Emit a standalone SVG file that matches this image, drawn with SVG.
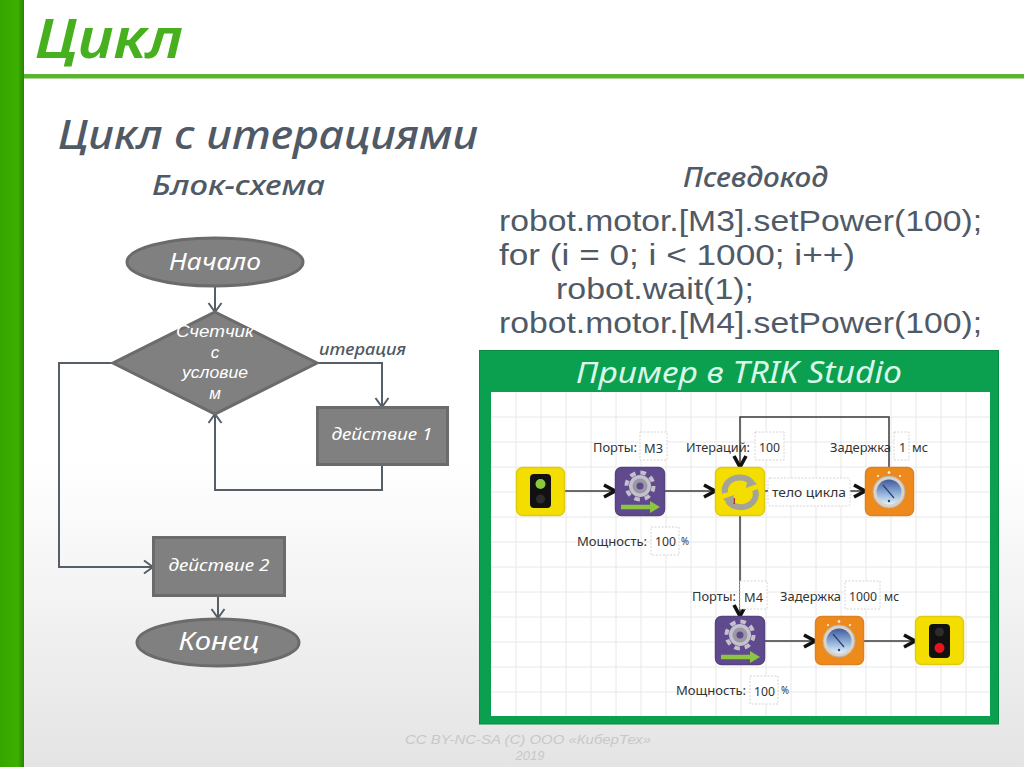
<svg xmlns="http://www.w3.org/2000/svg" width="1024" height="767" viewBox="0 0 1024 767">
<style>
text{font-family:"Noto Sans","DejaVu Sans",sans-serif}
.hw{font-style:italic}
.n{fill:#808080;stroke:#6b6b6b;stroke-width:3}
.nt{font-style:italic;fill:#fff;text-anchor:middle}
.c{fill:none;stroke:#565e68;stroke-width:2}
.w{fill:none;stroke:#3a3a3a;stroke-width:1.5}
.h{fill:#505a66;font-style:italic;font-weight:500}
.l{font-size:12.5px;fill:#333}
.b{fill:#fff;stroke:#d4d4d4;stroke-width:1;stroke-dasharray:2 1.5}
.y{fill:#f3de00;stroke:#e0cb10;stroke-width:1.5}
.o{fill:#ee8a1c;stroke:#dd8224;stroke-width:1.5}
.p{fill:#5f4a8e;stroke:#54447f;stroke-width:1.5}
.g{stroke:#e8e8e8;stroke-width:1}
.ls{font-family:"Liberation Sans",Arial,sans-serif}
</style>
<defs>
<linearGradient id="bg" x1="0" y1="0" x2="0" y2="1"><stop offset="0.6" stop-color="#fff"/><stop offset="1" stop-color="#e4e4e4"/></linearGradient>
<linearGradient id="bar" x1="0" y1="0" x2="1" y2="0"><stop offset="0" stop-color="#35a500"/><stop offset="0.75" stop-color="#3cb100"/><stop offset="1" stop-color="#2a7f08"/></linearGradient>
<linearGradient id="dial" x1="0" y1="0" x2="0" y2="1"><stop offset="0" stop-color="#3f5a9c"/><stop offset="0.55" stop-color="#8fb0d8"/><stop offset="1" stop-color="#e6f0f8"/></linearGradient>
<marker id="a" markerUnits="userSpaceOnUse" markerWidth="14" markerHeight="16" refX="12" refY="8" orient="auto"><path d="M3 1.5L12 8L3 14.5" fill="none" stroke="#565e68" stroke-width="2"/></marker>
<marker id="k" markerUnits="userSpaceOnUse" markerWidth="16" markerHeight="16" refX="13" refY="8" orient="auto"><path d="M2 2L13 8L2 14" fill="none" stroke="#111" stroke-width="3.6"/></marker>
<g id="gear"><circle r="11" fill="#c4c0cc"/><circle r="13.5" fill="none" stroke="#c4c0cc" stroke-width="4" stroke-dasharray="5.6 5"/><circle r="7.5" fill="#9a98a4"/><circle r="3.5" fill="#5f4a8e"/></g>
<g id="marrow"><path d="M-19 0H11" stroke="#8cc540" stroke-width="4.5"/><path d="M10 -6L20 0L10 6Z" fill="#8cc540"/></g>
<g id="clock"><circle r="16" fill="#d8d2c8" stroke="#b9b2a6"/><circle r="12.5" fill="url(#dial)"/><path d="M-6 -7L5 6" stroke="#2d3f70" stroke-width="1.2"/><circle cy="9" r="1.2" fill="#2d3f70"/><circle cy="-19.500" r="1.3" fill="#fff"/><circle cx="-11" cy="-16" r="1" fill="#fff"/><circle cx="11" cy="-16" r="1" fill="#fff"/></g>
</defs>

<rect width="1024" height="767" fill="url(#bg)"/>
<rect x="0" y="0" width="24" height="767" fill="url(#bar)"/>
<rect x="24" y="74" width="1000" height="4.5" fill="#5cb431"/>
<text x="35" y="58" font-size="54" font-weight="600" class="hw" fill="#46b01e" textLength="148" lengthAdjust="spacingAndGlyphs">Цикл</text>
<text x="58" y="149" font-size="40" class="h" textLength="420" lengthAdjust="spacingAndGlyphs">Цикл с итерациями</text>
<text x="152" y="195" font-size="28" class="h" textLength="173" lengthAdjust="spacingAndGlyphs">Блок-схема</text>
<text x="683" y="187" font-size="28" class="h" textLength="145" lengthAdjust="spacingAndGlyphs">Псевдокод</text>
<g font-size="29" fill="#505a66" class="ls">
<text class="ls" x="499" y="231" textLength="483" lengthAdjust="spacingAndGlyphs">robot.motor.[M3].setPower(100);</text>
<text class="ls" x="499" y="265" textLength="356" lengthAdjust="spacingAndGlyphs">for (i = 0; i &lt; 1000; i++)</text>
<text class="ls" x="556" y="299" textLength="198" lengthAdjust="spacingAndGlyphs">robot.wait(1);</text>
<text class="ls" x="499" y="333" textLength="483" lengthAdjust="spacingAndGlyphs">robot.motor.[M4].setPower(100);</text>
</g>

<g id="connectors-flow">
<path class="c" marker-end="url(#a)" d="M215 287V312"/>
<path class="c" marker-end="url(#a)" d="M317 363H382V407"/>
<path class="c" marker-end="url(#a)" d="M382 465V490H215V414"/>
<path class="c" marker-end="url(#a)" d="M113 363H59V567H153"/>
<path class="c" marker-end="url(#a)" d="M218 596V618"/>
</g>
<g id="start"><ellipse class="n" cx="215" cy="262" rx="88" ry="24"/><text class="nt" x="215" y="270" font-size="24" textLength="92" lengthAdjust="spacingAndGlyphs">Начало</text></g>
<g id="cond"><path class="n" d="M215 312L317 363L215 414L113 363Z"/>
<text class="nt ls" font-size="17" x="215" y="337" textLength="78" lengthAdjust="spacingAndGlyphs">Счетчик</text><text class="nt ls" font-size="17" x="215" y="358">с</text><text class="nt ls" font-size="17" x="215" y="378" textLength="66" lengthAdjust="spacingAndGlyphs">условие</text><text class="nt ls" font-size="17" x="215" y="399">м</text></g>
<text x="319" y="355" font-size="17" class="h" textLength="87" lengthAdjust="spacingAndGlyphs">итерация</text>
<g id="act1"><rect class="n" x="317.500" y="407.500" width="130" height="57"/><text class="nt" x="382" y="440" font-size="17" textLength="101" lengthAdjust="spacingAndGlyphs">действие 1</text></g>
<g id="act2"><rect class="n" x="153.500" y="537.500" width="131" height="58"/><text class="nt" x="219" y="571" font-size="17" textLength="101" lengthAdjust="spacingAndGlyphs">действие 2</text></g>
<g id="end"><ellipse class="n" cx="218" cy="642.500" rx="81" ry="23.500"/><text class="nt" x="219" y="650" font-size="25" textLength="81" lengthAdjust="spacingAndGlyphs">Конец</text></g>

<g id="panel">
<rect x="479.500" y="350.500" width="519" height="373.500" fill="#0b9f50" stroke="#0a8a45"/>
<rect x="491" y="392" width="499" height="324" fill="#fff"/>
<g class="g">
<path d="M516 392V716M541 392V716M566 392V716M591 392V716M616 392V716M641 392V716M666 392V716M691 392V716M716 392V716M741 392V716M766 392V716M791 392V716M816 392V716M841 392V716M866 392V716M891 392V716M916 392V716M941 392V716M966 392V716"/>
<path d="M491 417H990M491 442H990M491 467H990M491 492H990M491 517H990M491 542H990M491 567H990M491 592H990M491 617H990M491 642H990M491 667H990M491 692H990"/>
</g>
<text x="576" y="383" font-size="30" font-style="italic" fill="#d8f8e8" textLength="326" lengthAdjust="spacingAndGlyphs">Пример в TRIK Studio</text>
</g>

<g id="connectors-trik">
<path class="w" marker-end="url(#k)" d="M565 491H615"/>
<path class="w" marker-end="url(#k)" d="M665 491H715"/>
<path class="w" marker-end="url(#k)" d="M765 491H865"/>
<path class="w" marker-end="url(#k)" d="M889 467V417H740V467"/>
<path class="w" marker-end="url(#k)" d="M740 516V616"/>
<path class="w" marker-end="url(#k)" d="M765 641H815"/>
<path class="w" marker-end="url(#k)" d="M864 641H915"/>
</g>

<g id="t-start"><rect class="y" x="516.500" y="467.500" width="48" height="48" rx="6"/><rect x="530" y="474" width="21" height="34" rx="4" fill="#111"/><circle cx="540.500" cy="484" r="5" fill="#8cc83c"/><circle cx="540.500" cy="499" r="4.500" fill="#2c2c2c"/></g>
<g id="t-motor1"><rect class="p" x="615.500" y="467.500" width="49" height="48" rx="6"/><use href="#gear" x="640" y="486"/><use href="#marrow" x="640" y="507"/></g>
<g id="t-loop"><rect class="y" x="715.500" y="467.500" width="49" height="48" rx="6"/><path d="M725 493A15 13 0 0 1 752 483" fill="none" stroke="#a3a39a" stroke-width="6"/><path d="M755 490A15 13 0 0 1 728 501" fill="none" stroke="#a3a39a" stroke-width="6"/><path d="M748 476L757 484L746 488Z" fill="#a3a39a"/><path d="M732 507L723 499L734 495Z" fill="#a3a39a"/><rect x="733.500" y="498" width="1.500" height="6" fill="#b5332a"/></g>
<g id="t-body"><rect class="b" x="768" y="478" width="82" height="28" rx="2"/><text x="772" y="497" font-size="13" fill="#333" textLength="74" lengthAdjust="spacingAndGlyphs">тело цикла</text></g>
<g id="t-timer1"><rect class="o" x="865.500" y="467.500" width="48" height="48" rx="6"/><use href="#clock" x="889" y="492"/></g>
<g id="t-motor2"><rect class="p" x="715.500" y="616.500" width="49" height="48" rx="6"/><use href="#gear" x="740" y="635"/><use href="#marrow" x="740" y="657"/></g>
<g id="t-timer2"><rect class="o" x="815.500" y="616.500" width="48" height="48" rx="6"/><use href="#clock" x="839" y="641"/></g>
<g id="t-stop"><rect class="y" x="915.500" y="616.500" width="48" height="48" rx="6"/><rect x="929" y="624" width="21" height="34" rx="4" fill="#111"/><circle cx="939.500" cy="632" r="4.500" fill="#2c2c2c"/><circle cx="939.500" cy="648" r="5" fill="#e8141c"/></g>

<g id="labels">
<text class="l" x="593" y="452" textLength="44" lengthAdjust="spacingAndGlyphs">Порты:</text>
<rect class="b" x="640" y="432" width="27" height="28"/><text class="l" x="644" y="453" font-size="13" textLength="19" lengthAdjust="spacingAndGlyphs">М3</text>
<text class="l" x="686" y="452" textLength="64" lengthAdjust="spacingAndGlyphs">Итераций:</text>
<rect class="b" x="755" y="432" width="29" height="28"/><text class="l" x="759" y="452" textLength="21" lengthAdjust="spacingAndGlyphs">100</text>
<text class="l" x="830" y="452" textLength="61" lengthAdjust="spacingAndGlyphs">Задержка</text>
<rect class="b" x="894" y="432" width="15" height="28"/><text class="l" x="899" y="452">1</text>
<text class="l" x="912" y="452" textLength="16" lengthAdjust="spacingAndGlyphs">мс</text>
<text class="l" x="577" y="546" textLength="70" lengthAdjust="spacingAndGlyphs">Мощность:</text>
<rect class="b" x="651" y="527" width="28" height="28"/><text class="l" x="655" y="546" textLength="21" lengthAdjust="spacingAndGlyphs">100</text>
<text class="l" x="681" y="545" style="font-size:10px" textLength="8" lengthAdjust="spacingAndGlyphs">%</text>
<text class="l" x="692" y="601" textLength="44" lengthAdjust="spacingAndGlyphs">Порты:</text>
<rect class="b" x="740" y="581" width="27" height="28"/><text class="l" x="744" y="602" textLength="19" lengthAdjust="spacingAndGlyphs">М4</text>
<text class="l" x="780" y="601" textLength="61" lengthAdjust="spacingAndGlyphs">Задержка</text>
<rect class="b" x="845" y="581" width="35" height="28"/><text class="l" x="849" y="601" textLength="28" lengthAdjust="spacingAndGlyphs">1000</text>
<text class="l" x="884" y="601" textLength="15" lengthAdjust="spacingAndGlyphs">мс</text>
<text class="l" x="676" y="695" textLength="70" lengthAdjust="spacingAndGlyphs">Мощность:</text>
<rect class="b" x="750" y="676" width="28" height="28"/><text class="l" x="754" y="696" textLength="21" lengthAdjust="spacingAndGlyphs">100</text>
<text class="l" x="781" y="694" style="font-size:10px" textLength="8" lengthAdjust="spacingAndGlyphs">%</text>
</g>
<g fill="#c8c8c8" font-style="italic" text-anchor="middle">
<text class="ls" font-size="13" x="528" y="744" textLength="246" lengthAdjust="spacingAndGlyphs">CC BY-NC-SA (C) ООО «КиберТех»</text>
<text class="ls" font-size="13" x="530" y="760">2019</text>
</g>
</svg>
